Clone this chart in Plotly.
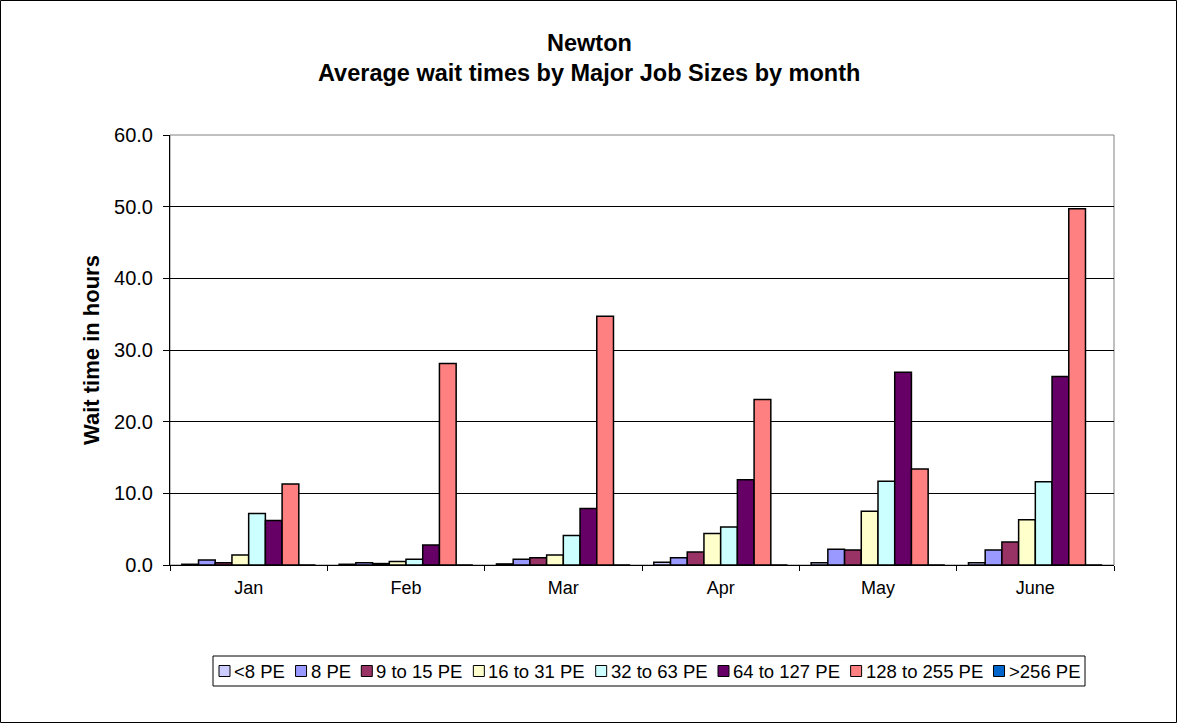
import plotly.graph_objects as go

# Average wait time (hours) per month for each job-size class
months = ["Jan", "Feb", "Mar", "Apr", "May", "June"]
series_names = ["<8 PE", "8 PE", "9 to 15 PE", "16 to 31 PE",
                "32 to 63 PE", "64 to 127 PE", "128 to 255 PE", ">256 PE"]
lt8_pe = [0.1, 0.1, 0.15, 0.4, 0.3, 0.3]
pe_8 = [0.7, 0.3, 0.8, 1.0, 2.2, 2.1]
pe_9_15 = [0.3, 0.2, 1.0, 1.8, 2.1, 3.2]
pe_16_31 = [1.4, 0.5, 1.4, 4.4, 7.5, 6.3]
pe_32_63 = [7.2, 0.8, 4.1, 5.3, 11.7, 11.6]
pe_64_127 = [6.2, 2.8, 7.9, 11.9, 26.9, 26.3]
pe_128_255 = [11.3, 28.1, 34.7, 23.1, 13.4, 49.7]
gt256_pe = [0.0, 0.0, 0.0, 0.0, 0.0, 0.0]
y_ticks = [0, 10, 20, 30, 40, 50, 60]

series_values = [lt8_pe, pe_8, pe_9_15, pe_16_31, pe_32_63,
                 pe_64_127, pe_128_255, gt256_pe]
colors = ["#CCCCFF", "#9999FF", "#993366", "#FFFFCC",
          "#CCFFFF", "#660066", "#FF8080", "#0066CC"]

W, H = 1178, 724
L, R, T, B = 170, 64, 135, 159
pw, ph = W - L - R, H - T - B

font = "Arial, Liberation Sans, sans-serif"


def px_x(px):
    return (px - L) / pw


def px_y(py):
    return (H - B - py) / ph


fig = go.Figure()
for name, vals, col in zip(series_names, series_values, colors):
    fig.add_trace(go.Bar(
        x=months, y=vals, name=name, showlegend=False,
        marker=dict(color=col, line=dict(color="black", width=1.5)),
    ))

# Legend box laid out by hand: small square swatch followed by its label
CHAR_W = {"<": 0.584, ">": 0.584, "P": 0.667, "E": 0.667, " ": 0.278,
          "t": 0.278, "o": 0.556}
LEG_FONT = 18.5
LEG_LEFT, LEG_RIGHT, LEG_TOP, LEG_BOTTOM = 213, 1085, 656, 686


def text_width(s, size):
    return sum(CHAR_W.get(c, 0.556) for c in s) * size


sq, sq_gap, pad = 11, 3, 6
widths = [sq + sq_gap + text_width(n, LEG_FONT) for n in series_names]
item_gap = ((LEG_RIGHT - LEG_LEFT) - 2 * pad - sum(widths)) / (len(widths) - 1)

shapes = [
    # plot area frame
    dict(type="rect", xref="paper", yref="paper", x0=0, x1=1, y0=0, y1=1,
         line=dict(color="#808080", width=1), layer="below"),
    # outer chart border
    dict(type="rect", xref="paper", yref="paper",
         x0=px_x(0.5), x1=px_x(W - 1.5), y0=px_y(H - 1.5), y1=px_y(0.5),
         line=dict(color="black", width=1)),
    # legend frame
    dict(type="rect", xref="paper", yref="paper",
         x0=px_x(LEG_LEFT), x1=px_x(LEG_RIGHT),
         y0=px_y(LEG_BOTTOM), y1=px_y(LEG_TOP),
         line=dict(color="black", width=1), fillcolor="white"),
]
annotations = [
    dict(text="<b>Newton</b>", xref="paper", yref="paper",
         x=px_x(589), y=px_y(43), showarrow=False,
         font=dict(size=23.5), xanchor="center", yanchor="middle"),
    dict(text="<b>Average wait times by Major Job Sizes by month</b>",
         xref="paper", yref="paper", x=px_x(589), y=px_y(73),
         showarrow=False, font=dict(size=23.5),
         xanchor="center", yanchor="middle"),
]

cy = (LEG_TOP + LEG_BOTTOM) / 2
x = LEG_LEFT + pad
for name, col, w in zip(series_names, colors, widths):
    shapes.append(dict(
        type="rect", xref="paper", yref="paper",
        x0=px_x(x), x1=px_x(x + sq), y0=px_y(cy + sq / 2), y1=px_y(cy - sq / 2),
        line=dict(color="black", width=1), fillcolor=col))
    annotations.append(dict(
        text=name, xref="paper", yref="paper", x=px_x(x + sq + sq_gap),
        y=px_y(cy), xanchor="left", yanchor="middle", showarrow=False,
        font=dict(size=LEG_FONT), xshift=-1))
    x += w + item_gap

fig.update_layout(
    width=W, height=H,
    margin=dict(l=L, r=R, t=T, b=B, pad=0),
    paper_bgcolor="white", plot_bgcolor="white",
    barmode="group", bargap=0.15, bargroupgap=0,
    font=dict(family=font, size=18, color="black"),
    showlegend=False,
    shapes=shapes,
    annotations=annotations,
)

fig.update_xaxes(
    showline=True, linecolor="black", linewidth=1,
    ticks="outside", tickson="boundaries", ticklen=5, tickcolor="black",
    tickfont=dict(size=18), ticklabelstandoff=6, showgrid=False,
)
fig.update_yaxes(
    range=[0, 60], tickvals=y_ticks, tickformat=".1f",
    showline=True, linecolor="black", linewidth=1,
    ticks="outside", ticklen=6, tickcolor="black",
    showgrid=True, gridcolor="black", gridwidth=1,
    tickfont=dict(size=20), ticklabelstandoff=6,
    title=dict(text="<b>Wait time in hours</b>", font=dict(size=22), standoff=8),
    zeroline=False,
)

fig.write_html("out.html")
